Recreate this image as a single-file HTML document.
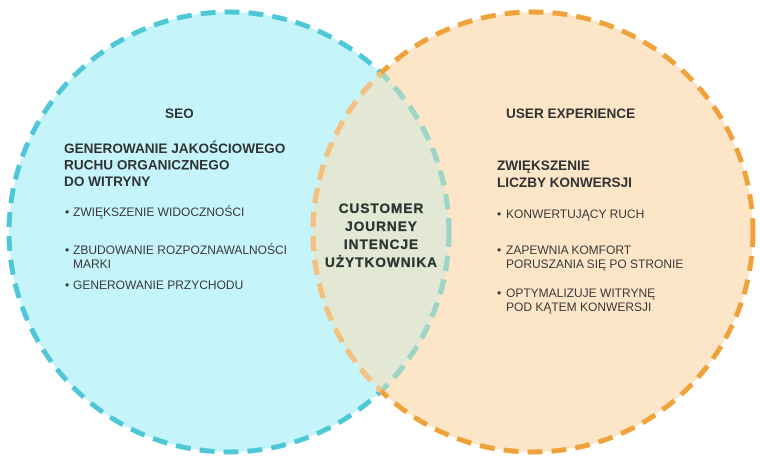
<!DOCTYPE html>
<html>
<head>
<meta charset="utf-8">
<style>
  html, body { margin:0; padding:0; background:#ffffff; }
  body { width:760px; height:465px; overflow:hidden; }
  svg { display:block; }
  text { font-family: "Liberation Sans", Arial, sans-serif; fill:#2f3333; }
  .h { font-weight:bold; font-size:13.6px; }
  .b { font-size:12px; fill:#383838; }
  .c { font-weight:bold; font-size:13.6px; fill:#2e3532; letter-spacing:1px; stroke:#2e3532; stroke-width:0.35px; }
</style>
</head>
<body>
<svg width="760" height="465" viewBox="0 0 760 465" xmlns="http://www.w3.org/2000/svg">
  <defs>
    <clipPath id="clipL"><circle cx="229" cy="232" r="220"/></clipPath>
    <clipPath id="clipR"><circle cx="533" cy="232" r="220"/></clipPath>
  </defs>
  <!-- fills -->
  <circle cx="229" cy="232" r="220" fill="#c5f4fb"/>
  <circle cx="533" cy="232" r="220" fill="#fde5c8"/>
  <circle cx="533" cy="232" r="220" fill="#e2e8d3" clip-path="url(#clipL)"/>
  <!-- strokes -->
  <circle cx="229" cy="232" r="220" fill="none" stroke="#4ec7d7" stroke-width="5" stroke-dasharray="15 9"/>
  <circle cx="229" cy="232" r="220" fill="none" stroke="#9dd5c6" stroke-width="5" stroke-dasharray="15 9" clip-path="url(#clipR)"/>
  <circle cx="533" cy="232" r="220" fill="none" stroke="#efa23a" stroke-width="5" stroke-dasharray="15 9"/>
  <circle cx="533" cy="232" r="220" fill="none" stroke="#f4c17e" stroke-width="5" stroke-dasharray="15 9" clip-path="url(#clipL)"/>

  <!-- left texts -->
  <text class="h" x="165" y="118">SEO</text>
  <text class="h" x="64" y="153">GENEROWANIE JAKOŚCIOWEGO</text>
  <text class="h" x="64" y="169.5">RUCHU ORGANICZNEGO</text>
  <text class="h" x="64" y="186">DO WITRYNY</text>

  <text class="b" x="65" y="216">•</text>
  <text class="b" x="73" y="216">ZWIĘKSZENIE WIDOCZNOŚCI</text>
  <text class="b" x="65" y="254">•</text>
  <text class="b" x="73" y="254">ZBUDOWANIE ROZPOZNAWALNOŚCI</text>
  <text class="b" x="73" y="268">MARKI</text>
  <text class="b" x="65" y="289">•</text>
  <text class="b" x="73" y="289">GENEROWANIE PRZYCHODU</text>

  <!-- center -->
  <text class="c" x="381.5" y="213" text-anchor="middle">CUSTOMER</text>
  <text class="c" x="381.5" y="231" text-anchor="middle">JOURNEY</text>
  <text class="c" x="381.5" y="249" text-anchor="middle">INTENCJE</text>
  <text class="c" x="381.5" y="267" text-anchor="middle">UŻYTKOWNIKA</text>

  <!-- right texts -->
  <text class="h" x="506" y="118">USER EXPERIENCE</text>
  <text class="h" x="497" y="170">ZWIĘKSZENIE</text>
  <text class="h" x="497" y="187">LICZBY KONWERSJI</text>

  <text class="b" x="497" y="218">•</text>
  <text class="b" x="506" y="218">KONWERTUJĄCY RUCH</text>
  <text class="b" x="497" y="254">•</text>
  <text class="b" x="506" y="254">ZAPEWNIA KOMFORT</text>
  <text class="b" x="506" y="268">PORUSZANIA SIĘ PO STRONIE</text>
  <text class="b" x="497" y="297">•</text>
  <text class="b" x="506" y="297">OPTYMALIZUJE WITRYNĘ</text>
  <text class="b" x="506" y="311">POD KĄTEM KONWERSJI</text>
</svg>
</body>
</html>
